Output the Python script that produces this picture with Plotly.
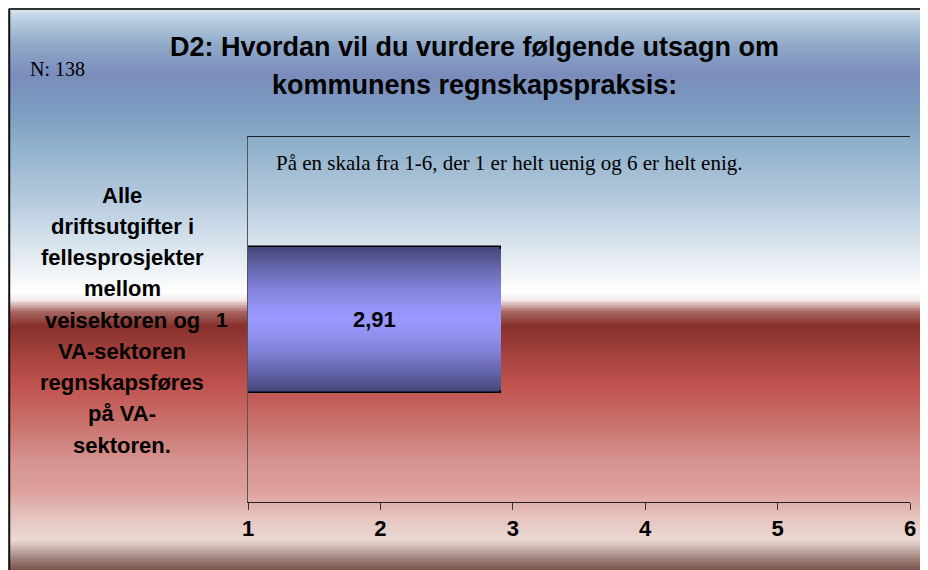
import plotly.graph_objects as go

# ---- data ----
categories = ["1"]
values = [2.91]
value_labels = ["2,91"]
x_ticks = [1, 2, 3, 4, 5, 6]
scale_min = 1
question_lines = ["Alle", "driftsutgifter i", "fellesprosjekter", "mellom",
                  "veisektoren og", "VA-sektoren", "regnskapsføres", "på VA-", "sektoren."]
title_lines = ["D2: Hvordan vil du vurdere følgende utsagn om", "kommunens regnskapspraksis:"]
n_text = "N: 138"
subtitle = "På en skala fra 1-6, der 1 er helt uenig og 6 er helt enig."

# ---- geometry helpers (layout), page pixel coords -> paper ----
OFF = 8                      # page body margin
W, H = 920, 562              # figure size
L, R, T, B = 248 - OFF, 912 - OFF, 137 - OFF, 502 - OFF
def px2x(px):
    return (px - OFF - L) / (R - L)
def py2y(py):
    return (B - (py - OFF)) / (B - T)

SANS = "Liberation Sans, Arial, sans-serif"
SERIF = "Liberation Serif, Times New Roman, serif"

def hex2rgb(h):
    h = h.lstrip('#')
    return tuple(int(h[i:i+2], 16) for i in (0, 2, 4))

def lerp(c1, c2, t):
    return tuple(round(a + (b - a) * t) for a, b in zip(c1, c2))

# background gradient stops (page y, color)
bg_stops = [
    (9, "#d8e6f0"), (20, "#b8cde0"), (45, "#8fa9c8"), (75, "#7a8cbb"),
    (110, "#7d9cc0"), (150, "#93b2cc"), (200, "#b5cbde"), (240, "#d5e1eb"),
    (270, "#eef2f6"), (292, "#ffffff"), (300, "#f4eaea"), (312, "#a86660"),
    (326, "#86302c"), (355, "#a5423e"), (385, "#c0524e"), (420, "#c86e6a"),
    (460, "#d6928e"), (490, "#dda09c"), (520, "#e6c6c1"),
    (540, "#ebd9d4"), (548, "#cdb5af"), (560, "#9a7a74"), (570, "#7a5550"),
]

def bg_color(py):
    for (y0, c0), (y1, c1) in zip(bg_stops[:-1], bg_stops[1:]):
        if y0 <= py <= y1:
            t = (py - y0) / (y1 - y0) if y1 > y0 else 0
            return "rgb(%d,%d,%d)" % lerp(hex2rgb(c0), hex2rgb(c1), t)
    return "rgb(%d,%d,%d)" % hex2rgb(bg_stops[-1][1])

shapes = []
step = 2
py = 9
while py < 572:
    shapes.append(dict(type="rect", xref="paper", yref="paper",
                       x0=px2x(8), x1=px2x(940), y0=py2y(py + step + 0.6), y1=py2y(py),
                       fillcolor=bg_color(py + step / 2), line=dict(width=0), layer="below"))
    py += step

# outer frame
shapes.append(dict(type="line", xref="paper", yref="paper", x0=px2x(8.5), x1=px2x(8.5),
                   y0=py2y(9), y1=py2y(575), line=dict(color="#111111", width=2), layer="above"))
shapes.append(dict(type="line", xref="paper", yref="paper", x0=px2x(8), x1=px2x(940),
                   y0=py2y(9), y1=py2y(9), line=dict(color="#333333", width=2), layer="above"))

# ---- bars: layered overlay for vertical gradient ----
edge = hex2rgb("#46467a")
center = hex2rgb("#9999ff")
N = 28
fig = go.Figure()
for i in range(N):
    d = 1 - i / N
    col = lerp(center, edge, d ** 1.5)
    fig.add_trace(go.Bar(
        y=categories, x=[v - scale_min for v in values], base=scale_min,
        orientation="h", width=0.4 * d,
        marker=dict(color="rgb(%d,%d,%d)" % col,
                    line=dict(color="#000000", width=1.5 if i == 0 else 0)),
        hoverinfo="skip", showlegend=False,
    ))

annotations = []
for cat, v, lab in zip(categories, values, value_labels):
    annotations.append(dict(x=(scale_min + v) / 2, y=0.5, xref="x", yref="paper",
                            text="<b>%s</b>" % lab, showarrow=False,
                            font=dict(family=SANS, size=22, color="#000000")))

# title lines
for k, (line, ypx) in enumerate(zip(title_lines, [47, 85])):
    annotations.append(dict(x=px2x(475), y=py2y(ypx), xref="paper", yref="paper",
                            text="<b>%s</b>" % line, showarrow=False, xanchor="center",
                            yanchor="middle", font=dict(family=SANS, size=27, color="#000000")))

annotations.append(dict(x=px2x(27), y=py2y(69), xref="paper", yref="paper", text=n_text,
                        showarrow=False, xanchor="left", yanchor="middle",
                        font=dict(family=SERIF, size=20, color="#000000")))
annotations.append(dict(x=px2x(274), y=py2y(163), xref="paper", yref="paper", text=subtitle,
                        showarrow=False, xanchor="left", yanchor="middle",
                        font=dict(family=SERIF, size=21, color="#000000")))

# question text lines
for k, line in enumerate(question_lines):
    ypx = 195 + k * 31.25
    annotations.append(dict(x=px2x(122), y=py2y(ypx), xref="paper", yref="paper",
                            text="<b>%s</b>" % line, showarrow=False, xanchor="center",
                            yanchor="middle", font=dict(family=SANS, size=22, color="#000000")))

fig.update_layout(
    width=W, height=H,
    margin=dict(l=L, r=W - R, t=T, b=H - B, pad=0),
    paper_bgcolor="#ffffff", plot_bgcolor="rgba(0,0,0,0)",
    barmode="overlay", bargap=0, showlegend=False, hovermode=False,
    shapes=shapes, annotations=annotations,
    xaxis=dict(range=[x_ticks[0], x_ticks[-1]], tickvals=x_ticks, ticktext=[str(t) for t in x_ticks],
               showgrid=False, zeroline=False, showline=True, linecolor="#222222", linewidth=1,
               mirror=True, ticks="outside", ticklen=7, tickcolor="#333333",
               tickfont=dict(family=SANS, size=22, color="#000000", weight="bold")),
    yaxis=dict(type="category", categoryarray=categories, range=[-0.5, 0.5],
               showgrid=False, zeroline=False, showline=True, linecolor="#555555", linewidth=1,
               ticks="", ticklabelstandoff=15,
               tickfont=dict(family=SANS, size=21, color="#000000", weight="bold")),
)

fig.write_html("out.html")
